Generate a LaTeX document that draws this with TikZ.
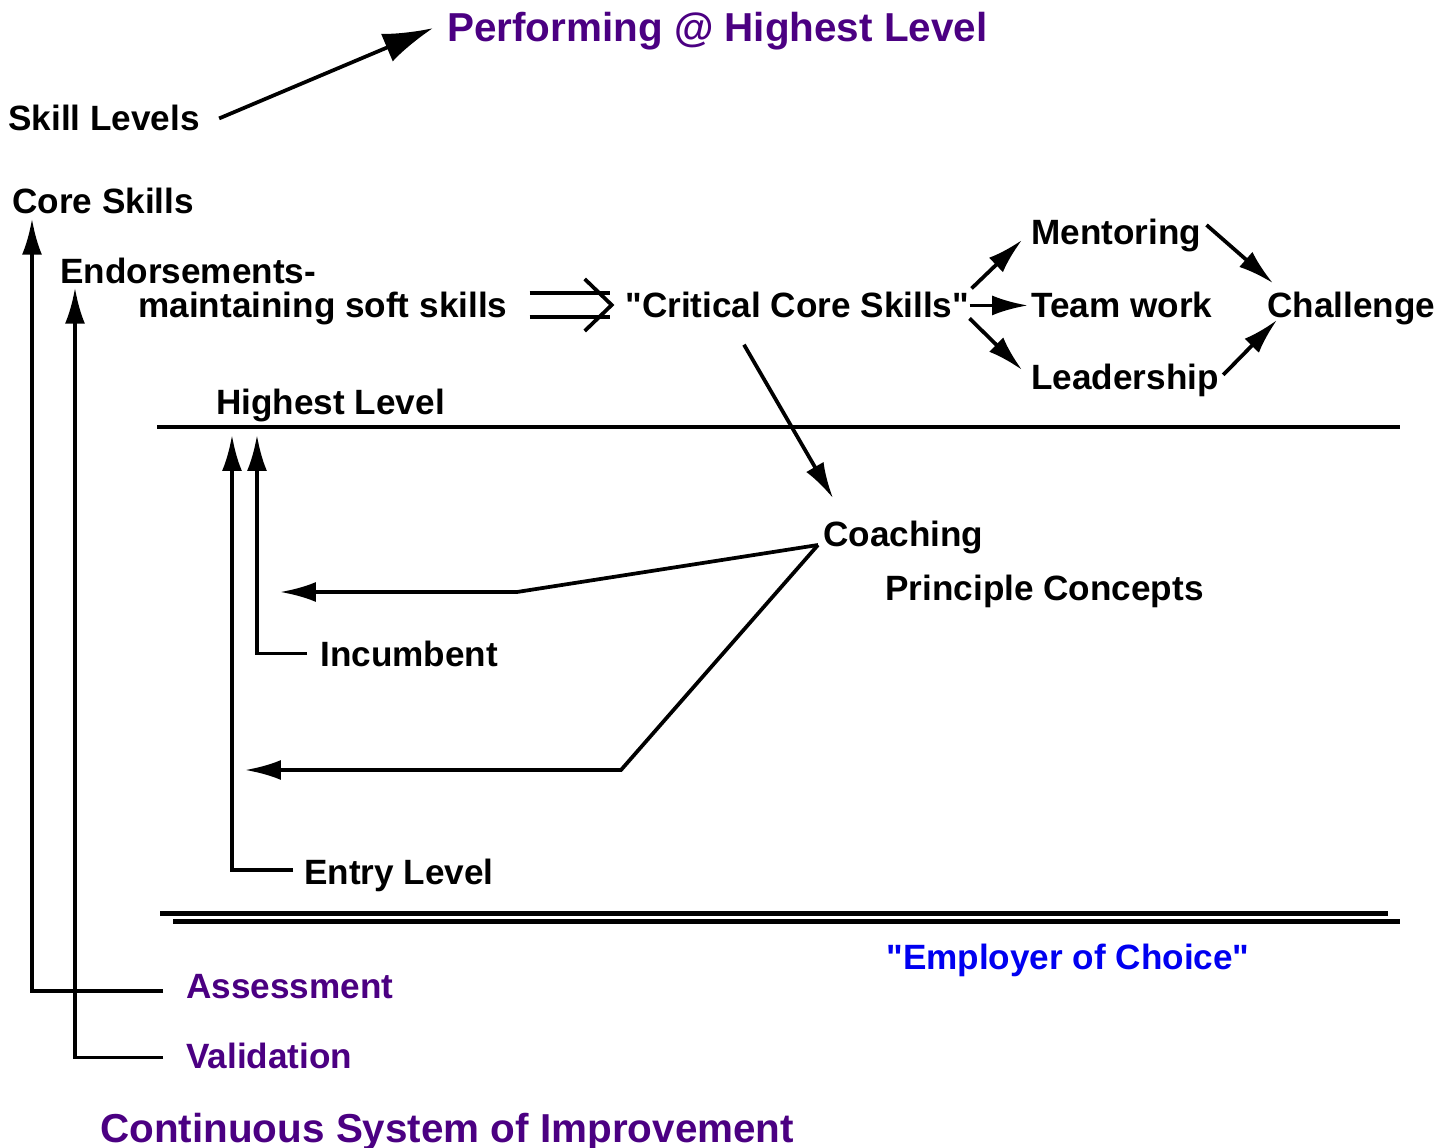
\documentclass[tikz,border=0pt]{standalone}
\usepackage{fontspec}
\setmainfont{Liberation Sans}
\usepackage{xcolor}
\usetikzlibrary{arrows.meta,positioning}
\definecolor{deeppurple}{RGB}{75,0,130}
\definecolor{choiceblue}{RGB}{0,0,240}

\tikzset{
	txt/.style={anchor=base west, inner sep=0pt, font=\fontsize{20}{24}\selectfont\bfseries},
	head/.style={txt, font=\fontsize{23}{28}\selectfont\bfseries, text=deeppurple},
	arr/.style={line width=0.075cm, -{Latex[length=0.72cm,width=0.4cm]}},
	bigarr/.style={line width=0.075cm, -{Latex[length=1cm,width=0.6cm]}},
	plain/.style={line width=0.075cm},
}

\begin{document}
\begin{tikzpicture}[x=0.02cm,y=-0.02cm]
			\useasboundingbox (0,0) rectangle (1450,1148);
			
			\node[head] (perf) at (447,42) {Performing @ Highest Level};
			\node[txt] (skill) at (8,131) {Skill Levels};
			\node[txt] (core) at (12,214) {Core Skills};
			\node[txt] (endorse) at (60,284) {Endorsements-};
			\node[txt] (maint) at (138,318) {maintaining soft skills};
			\node[txt] (crit) at (625,318) {\textquotedbl Critical Core Skills\textquotedbl};
			
			\node[txt] (mentor) at (1031,245) {Mentoring};
			\node[txt] (team) at (1031,318) {Team work};
			\node[txt] (lead) at (1031,390) {Leadership};
			\node[txt] (chall) at (1267,318) {Challenge};
			
			\node[txt] (high) at (216,415) {Highest Level};
			\node[txt] (coach) at (823,546) {Coaching};
			\node[txt] (princ) at (885,600) {Principle Concepts};
			\node[txt] (inc) at (320,666) {Incumbent};
			\node[txt] (entry) at (304,884) {Entry Level};
			
			\node[txt, text=choiceblue] (choice) at (886,969) {\textquotedbl Employer of Choice\textquotedbl};
			\node[txt, text=deeppurple] (assess) at (186,998) {Assessment};
			\node[txt, text=deeppurple] (valid) at (186,1068) {Validation};
			\node[head] (csi) at (100,1142) {Continuous System of Improvement};
			
			% level lines
			\coordinate (hiL) at (157,427);
			\coordinate (hiR) at (1400,427);
			\draw[plain] (hiL) -- (hiR);
			\coordinate (loL) at (160,913);
			\coordinate (loR) at (1388,913);
			\coordinate (lowL) at (173,921);
			\coordinate (lowR) at (1400,921);
			\draw[line width=0.1cm] (loL) -- (loR);
			\draw[line width=0.1cm] (lowL) -- (lowR);
			
			\draw[bigarr] ([xshift=0.38cm]skill.east) -- ([xshift=-0.28cm,yshift=0.07cm]perf.west);
			\draw[arr] ([xshift=-0.46cm,yshift=-0.1cm]assess.west) -| ([xshift=0.4cm,yshift=-0.08cm]core.south west);
			\draw[arr] ([xshift=-0.46cm,yshift=-0.04cm]valid.west) -| ([xshift=0.3cm,yshift=-0.06cm]endorse.south west);
			
			% double arrow
			\coordinate (dbl) at ([xshift=0.44cm,yshift=0.08cm]maint.east);
			\draw[plain] ([yshift=0.24cm]dbl) -- ++(1.6cm,0);
			\draw[plain] ([yshift=-0.24cm]dbl) -- ++(1.6cm,0);
			\draw[plain, line join=miter] ([xshift=1.1cm,yshift=0.52cm]dbl) -- ([xshift=1.64cm]dbl) -- ([xshift=1.1cm,yshift=-0.52cm]dbl);
			
			\draw[arr] ([xshift=0.04cm,yshift=0.34cm]crit.east) -- ([xshift=-0.18cm,yshift=-0.08cm]mentor.west);
			\draw[arr] (crit.east) -- ([xshift=-0.06cm]team.west);
			\draw[arr] ([yshift=-0.26cm]crit.east) -- ([xshift=-0.18cm,yshift=0.22cm]lead.west);
			\draw[arr] ([xshift=0.1cm,yshift=0.22cm]mentor.east) -- ([xshift=0.12cm,yshift=0.18cm]chall.north west);
			\draw[arr] ([xshift=0.08cm,yshift=0.12cm]lead.east) -- ([xshift=0.2cm,yshift=-0.22cm]chall.west);
			\draw[arr] ([xshift=2.38cm,yshift=-0.52cm]crit.south west) -- ([xshift=0.2cm,yshift=0.44cm]coach.north west);
			
			% coaching
			\coordinate (bendA) at (517,592);
			\coordinate (incTip) at (280,592);
			\coordinate (bendB) at (621,770);
			\coordinate (entTip) at (245,770);
			\draw[arr] ([xshift=-0.1cm,yshift=-0.16cm]coach.west) -- (bendA) -- (incTip);
			\draw[arr] ([xshift=-0.1cm,yshift=-0.16cm]coach.west) -- (bendB) -- (entTip);
			
			\draw[arr] ([xshift=-0.26cm]inc.west) -| ([xshift=2cm,yshift=-0.16cm]hiL);
			\draw[arr] ([xshift=-0.22cm,yshift=0.1cm]entry.west) -| ([xshift=1.5cm,yshift=-0.16cm]hiL);
\end{tikzpicture}
\end{document}
